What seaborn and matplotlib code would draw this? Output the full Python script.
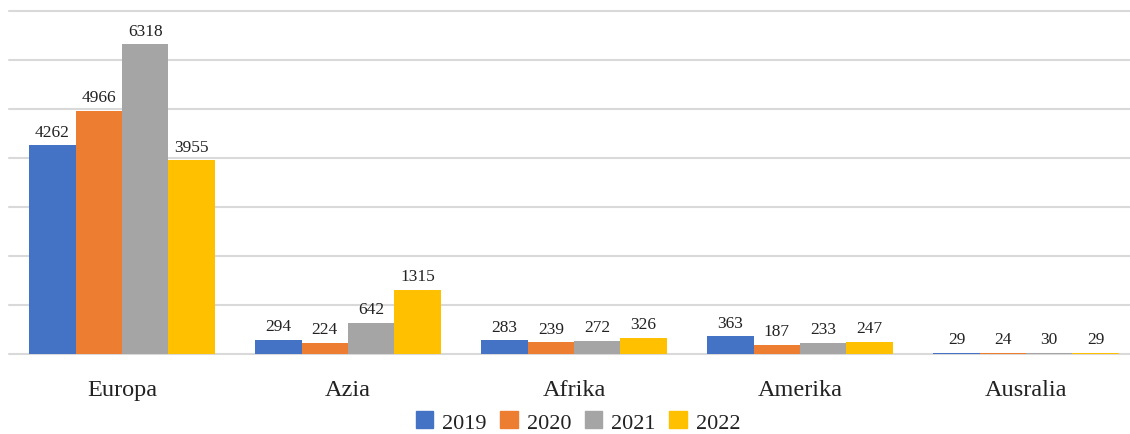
import pandas as pd
import matplotlib
matplotlib.use("Agg")
import matplotlib.pyplot as plt
import seaborn as sns

# data
regions = ["Europa", "Azia", "Afrika", "Amerika", "Ausralia"]
years = ["2019", "2020", "2021", "2022"]
v2019 = [4262, 294, 283, 363, 29]
v2020 = [4966, 224, 239, 187, 24]
v2021 = [6318, 642, 272, 233, 30]
v2022 = [3955, 1315, 326, 247, 29]
colors = ["#4472C4", "#ED7D31", "#A5A5A5", "#FFC000"]

# long format for seaborn
rows = []
for year, vals in zip(years, [v2019, v2020, v2021, v2022]):
    for reg, v in zip(regions, vals):
        rows.append({"region": reg, "year": year, "value": v})
df = pd.DataFrame(rows)

sns.set_style("white")
plt.rcParams["font.family"] = ["Liberation Serif", "DejaVu Serif"]

W, H = 1130, 435
fig = plt.figure(figsize=(W / 100, H / 100), dpi=100)
ax = fig.add_axes([9 / W, 80 / H, 1130 / W, 343 / H])

sns.barplot(data=df, x="region", y="value", hue="year", order=regions,
            hue_order=years, palette=colors, width=0.82, gap=0,
            saturation=1, linewidth=0, ax=ax, legend=False, zorder=3)

for cont in ax.containers:
    ax.bar_label(cont, fmt="%d", padding=4, fontsize=12.5, color="#222222")

ax.set_xlim(-0.5, 4.5)
ax.set_ylim(0, 7000)
ax.set_yticks(range(0, 7001, 1000))
ax.set_yticklabels([])
ax.grid(axis="y", color="#D9D9D9", linewidth=1.5, zorder=0)
for gl in ax.get_ygridlines():
    gl.set_clip_on(False)
ax.tick_params(axis="both", length=0)
ax.tick_params(axis="x", labelsize=17.5, pad=18, colors="#222222")
ax.set_xlabel("")
ax.set_ylabel("")
for s in ax.spines.values():
    s.set_visible(False)

handles = [plt.Rectangle((0, 0), 1, 1, color=c) for c in colors]
fig.legend(handles, years, loc="center", bbox_to_anchor=(578 / W, 12 / H),
           ncol=4, frameon=False, fontsize=16, handlelength=0.8,
           handleheight=0.8, handletextpad=0.4, columnspacing=0.6,
           labelcolor="#222222", borderpad=0.1)

fig.savefig("out.png", dpi=100)
